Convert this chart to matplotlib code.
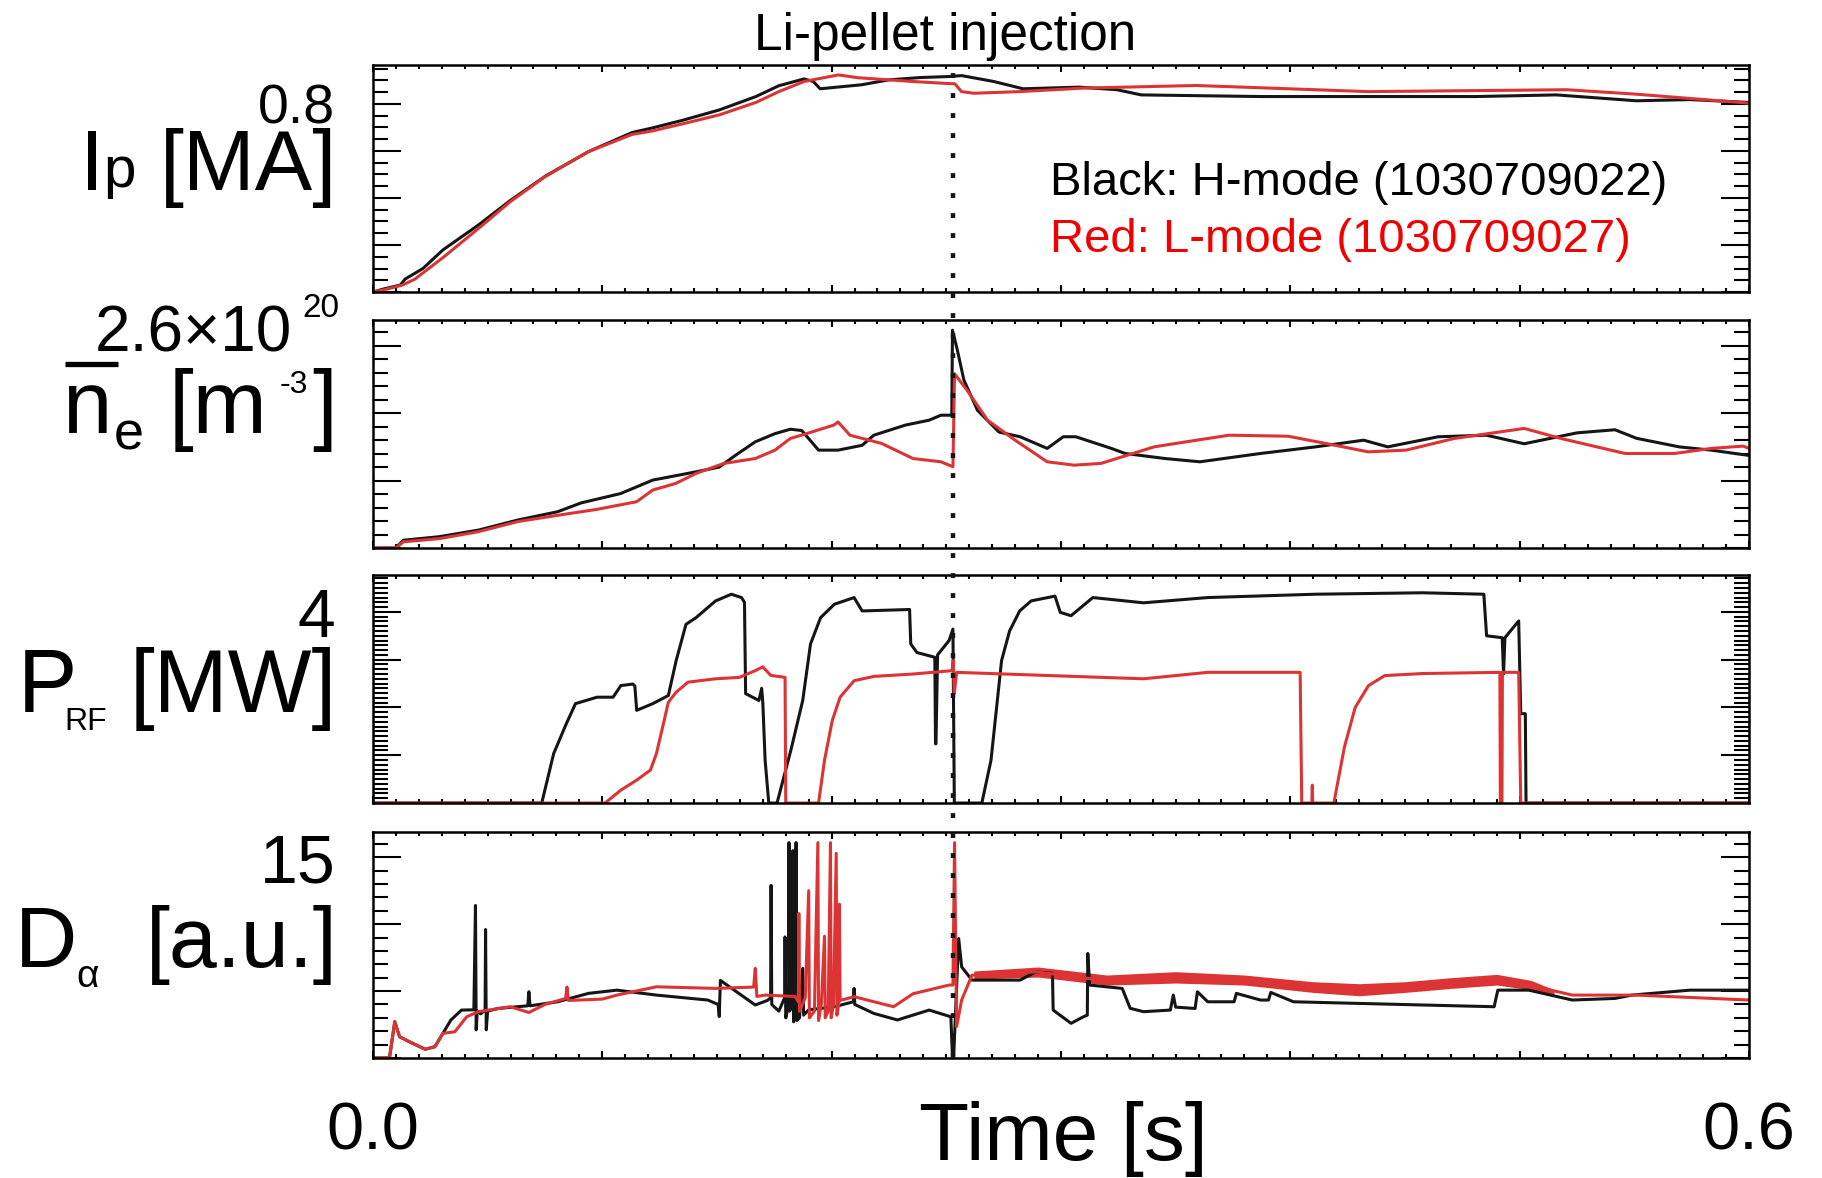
import matplotlib
matplotlib.use('Agg')
import matplotlib.pyplot as plt
from matplotlib.lines import Line2D
from matplotlib.ticker import MultipleLocator, FuncFormatter

plt.rcParams.update({
    'font.family': ['Liberation Sans', 'DejaVu Sans'],
    'mathtext.fontset': 'custom',
    'mathtext.rm': 'Liberation Sans',
    'mathtext.default': 'regular',
})

t_pellet = 0.2529

# ---- plasma current [MA]
ip_h_t = [0, 0.0047, 0.012, 0.014, 0.0218, 0.0305, 0.046, 0.06, 0.0754, 0.094, 0.113, 0.122, 0.135,
          0.151, 0.167, 0.177, 0.188, 0.192, 0.195, 0.213, 0.225, 0.239, 0.251, 0.2567, 0.2707,
          0.2835, 0.308, 0.3244, 0.335, 0.387, 0.481, 0.516, 0.551, 0.5743, 0.6]
ip_h = [0, 0.013, 0.03, 0.055, 0.10, 0.179, 0.285, 0.39, 0.494, 0.597, 0.678, 0.698, 0.73,
        0.774, 0.831, 0.877, 0.906, 0.895, 0.864, 0.881, 0.902, 0.912, 0.916, 0.92, 0.895,
        0.864, 0.871, 0.86, 0.838, 0.831, 0.831, 0.838, 0.813, 0.818, 0.806]
ip_l_t = [0, 0.005, 0.013, 0.0183, 0.031, 0.046, 0.06, 0.075, 0.094, 0.113, 0.122, 0.135, 0.151,
          0.167, 0.177, 0.188, 0.203, 0.2115, 0.2355, 0.2495, 0.2538, 0.2566, 0.262, 0.282, 0.310,
          0.359, 0.434, 0.5206, 0.551, 0.6]
ip_l = [0, 0.01, 0.03, 0.055, 0.15, 0.27, 0.385, 0.49, 0.597, 0.67, 0.685, 0.715, 0.753,
        0.806, 0.852, 0.895, 0.923, 0.911, 0.895, 0.887, 0.885, 0.852, 0.845, 0.852, 0.867,
        0.878, 0.852, 0.860, 0.841, 0.803]

# ---- line-averaged density [1e20 m^-3]
ne_h_t = [0, 0.0099, 0.0133, 0.0288, 0.046, 0.0632, 0.0805, 0.0908, 0.108, 0.122, 0.141, 0.151,
          0.158, 0.1667, 0.1753, 0.182, 0.187, 0.1943, 0.2028, 0.2133, 0.2184, 0.2322, 0.2425,
          0.2477, 0.2524, 0.2527, 0.2547, 0.2577, 0.2636, 0.273, 0.2822, 0.294, 0.301, 0.3065,
          0.322, 0.328, 0.3455, 0.3606, 0.387, 0.411, 0.432, 0.4425, 0.4645, 0.4855, 0.502,
          0.525, 0.5416, 0.551, 0.5696, 0.5835, 0.6]
ne_h = [0, 0, 0.10, 0.145, 0.23, 0.36, 0.466, 0.58, 0.70, 0.873, 0.98, 1.04,
        1.19, 1.365, 1.47, 1.527, 1.51, 1.258, 1.258, 1.32, 1.45, 1.58, 1.643,
        1.707, 1.707, 2.80, 2.56, 2.157, 1.77, 1.49, 1.43, 1.28, 1.43, 1.43,
        1.28, 1.215, 1.15, 1.108, 1.215, 1.30, 1.386, 1.30, 1.43, 1.45, 1.34,
        1.48, 1.52, 1.41, 1.30, 1.258, 1.19]
ne_l_t = [0, 0.0099, 0.0133, 0.0288, 0.046, 0.0632, 0.0805, 0.0977, 0.115, 0.122, 0.132, 0.141,
          0.153, 0.1667, 0.1753, 0.182, 0.189, 0.201, 0.2028, 0.208, 0.2218, 0.2355, 0.2477,
          0.2529, 0.2536, 0.259, 0.268, 0.28, 0.294, 0.3057, 0.3174, 0.3267, 0.3406, 0.3546,
          0.3733, 0.399, 0.4155, 0.434, 0.4505, 0.4715, 0.502, 0.518, 0.546, 0.5675, 0.5835,
          0.5975, 0.6]
ne_l = [0, 0, 0.08, 0.12, 0.21, 0.34, 0.42, 0.497, 0.595, 0.745, 0.83, 0.96,
        1.087, 1.15, 1.258, 1.408, 1.47, 1.58, 1.62, 1.45, 1.344, 1.15, 1.108,
        1.044, 2.24, 2.03, 1.643, 1.386, 1.108, 1.065, 1.087, 1.172, 1.30, 1.365,
        1.45, 1.437, 1.344, 1.236, 1.258, 1.408, 1.537, 1.408, 1.215, 1.215, 1.28,
        1.31, 1.28]

# ---- RF power [MW]
prf_h_t = [0, 0.0736, 0.0788, 0.084, 0.0883, 0.0977, 0.1047, 0.1081, 0.1133, 0.1142, 0.115,
           0.122, 0.1288, 0.1322, 0.1365, 0.1409, 0.1494, 0.1563, 0.1607, 0.162, 0.1625, 0.1683,
           0.1695, 0.1700, 0.171, 0.1726, 0.1762, 0.1822, 0.1874, 0.1908, 0.1952, 0.2012, 0.2098,
           0.2133, 0.234, 0.2345, 0.2372, 0.245, 0.2453, 0.2455, 0.2462, 0.2512, 0.2529, 0.2535,
           0.2655, 0.2695, 0.2741, 0.2776, 0.282, 0.287, 0.2974, 0.2997, 0.3044, 0.3139, 0.336,
           0.364, 0.411, 0.4576, 0.4844, 0.4856, 0.4924, 0.4930, 0.4936, 0.4996, 0.5005, 0.5025,
           0.5028, 0.6]
prf_h = [0, 0, 1.035, 1.625, 2.08, 2.215, 2.215, 2.458, 2.49, 2.45, 1.94,
         2.08, 2.25, 2.98, 3.74, 3.88, 4.23, 4.37, 4.30, 4.2, 2.29, 2.146,
         2.4, 2.1, 0.896, 0, 0, 1.10, 2.146, 3.33, 3.88, 4.16, 4.30,
         4.02, 4.05, 3.33, 3.15, 3.05, 1.24, 1.24, 3.1, 3.40, 3.64, 0,
         0, 0.896, 2.98, 3.60, 4.02, 4.23, 4.33, 3.99, 3.92, 4.30, 4.19,
         4.30, 4.37, 4.40, 4.37, 3.50, 3.46, 2.7, 3.46, 3.81, 1.87, 1.87,
         0, 0]
prf_l_t = [0, 0.1012, 0.1081, 0.115, 0.121, 0.1236, 0.127, 0.1288, 0.1322, 0.1374, 0.1494,
           0.1598, 0.1667, 0.17, 0.1735, 0.1797, 0.180, 0.1943, 0.1969, 0.2003, 0.2037, 0.2098,
           0.2184, 0.2355, 0.2525, 0.2530, 0.2535, 0.2545, 0.336, 0.364, 0.4043, 0.405, 0.4094,
           0.4096, 0.4098, 0.419, 0.4236, 0.4283, 0.4341, 0.4412, 0.4576, 0.4914, 0.4916,
           0.4923, 0.4925, 0.4996, 0.5005, 0.6]
prf_l = [0, 0, 0.27, 0.48, 0.69, 1.035, 1.73, 2.11, 2.32, 2.53, 2.60,
         2.63, 2.77, 2.85, 2.67, 2.63, 0, 0, 0.896, 1.73, 2.215, 2.56,
         2.65, 2.70, 2.77, 2.98, 2.29, 2.735, 2.60, 2.735, 2.735, 0, 0,
         0.375, 0, 0, 1.17, 2.0, 2.458, 2.667, 2.71, 2.735, 0,
         0, 2.735, 2.735, 0, 0]

# ---- D-alpha [a.u.]
da_h_t = [0, 0.0072, 0.0095, 0.0116, 0.0167, 0.0228, 0.027, 0.0305, 0.034, 0.0386, 0.0440,
          0.0447, 0.0450, 0.0455, 0.0470, 0.0489, 0.0491, 0.0494, 0.0500, 0.0545, 0.0675, 0.068,
          0.0685, 0.0805, 0.094, 0.1064, 0.1236, 0.146, 0.1505, 0.151, 0.1515, 0.1667, 0.172,
          0.1734, 0.1736, 0.1739, 0.1770, 0.1795, 0.1797, 0.1800, 0.1812, 0.1814, 0.1817,
          0.1829, 0.1831, 0.1834, 0.1843, 0.1845, 0.1848, 0.1860, 0.1874, 0.1878, 0.1900,
          0.2012, 0.2095, 0.2098, 0.2101, 0.2184, 0.2287, 0.2425, 0.2520, 0.2527, 0.2532,
          0.2554, 0.2567, 0.2612, 0.2822, 0.289, 0.2963, 0.2966, 0.3044, 0.3098, 0.3115, 0.3117,
          0.3125, 0.3267, 0.3302, 0.336, 0.3477, 0.3490, 0.3500, 0.3585, 0.3595, 0.364, 0.3755,
          0.3765, 0.387, 0.3905, 0.3915, 0.4014, 0.4576, 0.4889, 0.4905, 0.504, 0.523, 0.5416,
          0.549, 0.5743, 0.6]
da_h = [0, 0, 2.71, 1.59, 1.14, 0.65, 0.84, 1.84, 2.84, 3.58, 3.6,
        11.4, 2.1, 3.5, 3.3, 3.6, 9.6, 2.1, 3.5, 3.7, 3.9, 4.95,
        3.9, 4.2, 4.83, 5.07, 4.70, 4.33, 4.0, 3.1, 5.8, 3.96, 4.3,
        4.5, 12.9, 4.0, 3.5, 4.5, 9.05, 3.0, 4.0, 16.1, 3.5,
        4.0, 15.5, 2.7, 3.5, 16.1, 2.8, 3.0, 6.7, 3.2, 3.6,
        3.83, 4.2, 5.2, 4.0, 3.33, 2.84, 3.58, 3.08, 0, 0,
        8.93, 6.81, 5.82, 5.82, 6.44, 6.32, 3.58, 2.59, 3.08, 3.2, 7.81,
        5.45, 5.2, 3.71, 3.46, 3.58, 4.7, 3.8, 3.7, 4.95, 4.2, 4.2,
        4.83, 4.33, 4.33, 4.9, 4.2, 3.96, 3.83, 5.07, 5.07, 4.33, 4.45,
        4.70, 5.07, 5.07]
da_l_t = [0, 0.0072, 0.0095, 0.0116, 0.0167, 0.0228, 0.027, 0.0305, 0.0357, 0.0409, 0.046,
          0.0598, 0.068, 0.075, 0.084, 0.0846, 0.0852, 0.1, 0.1064, 0.1236, 0.1494, 0.166,
          0.1667, 0.1674, 0.171, 0.184, 0.1855, 0.1857, 0.186, 0.1885, 0.19, 0.1903, 0.1925,
          0.194, 0.1943, 0.1955, 0.1969, 0.1972, 0.1985, 0.1995, 0.1998, 0.2008, 0.202, 0.2023,
          0.2031, 0.2034, 0.2037, 0.2098, 0.227, 0.2355, 0.2512, 0.2529, 0.2536, 0.2545, 0.2567,
          0.2612, 0.289, 0.3174, 0.3524, 0.387, 0.4295, 0.4576, 0.4879, 0.504, 0.523, 0.551, 0.6]
da_l = [0, 0, 2.71, 1.59, 1.14, 0.65, 0.84, 1.84, 1.96, 3.08, 3.46,
        3.83, 3.4, 4.0, 4.45, 5.3, 4.3, 4.4, 4.7, 5.32, 5.2, 5.3,
        6.7, 4.6, 4.7, 4.6, 4.2, 10.8, 3.5, 4.5, 12.5, 3.0, 3.5,
        16.1, 2.8, 4.0, 9.1, 3.0, 3.5, 16.1, 3.0, 4.0, 15.3, 3.2,
        4.0, 11.5, 4.3, 4.58, 3.83, 4.8, 5.45, 5.45, 16.1, 2.34, 4.33,
        6.19, 6.44, 5.82, 6.0, 5.82, 5.07, 5.45, 5.82, 5.45, 4.7, 4.7, 4.33]
# spread of the noisy red D-alpha trace after the pellet (lower / upper edge)
da_l_band_t = [0.262, 0.29, 0.32, 0.35, 0.38, 0.41, 0.43, 0.45, 0.47, 0.49, 0.505, 0.515]
da_l_band_lo = [5.9, 6.05, 5.45, 5.6, 5.45, 4.9, 4.65, 4.9, 5.2, 5.45, 5.1, 4.7]
da_l_band_hi = [6.5, 6.8, 6.2, 6.45, 6.2, 5.7, 5.55, 5.7, 6.0, 6.25, 5.8, 5.1]

h_color = '#151515'
l_color = '#dc3434'
W, H = 1822, 1178

fig = plt.figure(figsize=(W / 100, H / 100), dpi=100)
left, width = 0.2047, 0.7552
boxes = [(0.7521, 0.1927), (0.5348, 0.1935), (0.3183, 0.1935), (0.1019, 0.1919)]
axes = [fig.add_axes([left, b, width, h]) for b, h in boxes]

panels = [
    (ip_h_t, ip_h, ip_l_t, ip_l, 0.965, 0.2, 0.05),
    (ne_h_t, ne_h, ne_l_t, ne_l, 2.93, 2.6 / 3, 2.6 / 15),
    (prf_h_t, prf_h, prf_l_t, prf_l, 4.77, 1.0, 0.1),
    (da_h_t, da_h, da_l_t, da_l, 16.9, 5.0, 1.0),
]

for ax, (th, yh, tl, yl, ytop, ymaj, ymin) in zip(axes, panels):
    ax.plot(th, yh, color=h_color, lw=2.2)
    ax.plot(tl, yl, color=l_color, lw=2.2)
    ax.set_xlim(0, 0.6)
    ax.set_ylim(0, ytop)
    ax.xaxis.set_major_locator(MultipleLocator(0.1))
    ax.xaxis.set_minor_locator(MultipleLocator(0.01))
    ax.yaxis.set_major_locator(MultipleLocator(ymaj))
    ax.yaxis.set_minor_locator(MultipleLocator(ymin))
    ax.tick_params(axis='x', which='both', direction='in', top=True, bottom=True,
                   width=1.5, labelbottom=False)
    ax.tick_params(axis='x', which='major', length=5)
    ax.tick_params(axis='x', which='minor', length=3)
    ax.tick_params(axis='y', which='both', direction='in', left=True, right=True,
                   width=1.5, pad=27)
    ax.tick_params(axis='y', which='major', length=20)
    ax.tick_params(axis='y', which='minor', length=10.5)
    for s in ax.spines.values():
        s.set_linewidth(1.8)

axes[3].fill_between(da_l_band_t, da_l_band_lo, da_l_band_hi, color=l_color, lw=0)


def only(value, text):
    return FuncFormatter(lambda v, p: text if abs(v - value) < 1e-6 else '')


axes[0].yaxis.set_major_formatter(only(0.8, '0.8'))
axes[0].tick_params(axis='y', labelsize=40)
axes[1].yaxis.set_major_formatter(FuncFormatter(lambda v, p: ''))
axes[2].yaxis.set_major_formatter(only(4, '4'))
axes[2].tick_params(axis='y', labelsize=49)
axes[3].yaxis.set_major_formatter(only(15, '15'))
axes[3].tick_params(axis='y', labelsize=49)

axes[3].xaxis.set_major_formatter(FuncFormatter(
    lambda v, p: '0.0' if abs(v) < 1e-6 else ('0.6' if abs(v - 0.6) < 1e-6 else '')))
axes[3].tick_params(axis='x', labelbottom=True, labelsize=48, pad=31)


def label(px, py, s, size, ha='left'):
    # place a piece of a y-axis label at pixel position (left/right edge, baseline)
    fig.text(px / W, 1 - py / H, s, ha=ha, va='baseline', fontsize=size)


# I_p [MA]
label(80, 190, 'I', 62)
label(103, 187, 'p', 42)
label(337, 190, '[MA]', 62, ha='right')
# 2.6x10^20 and n_e [m^-3]
label(292, 352, '2.6×10', 46, ha='right')
label(339, 317, '20', 24, ha='right')
label(62, 433, 'n', 64)
fig.add_artist(Line2D([65 / W, 118 / W], [1 - 364 / H, 1 - 364 / H],
                      transform=fig.transFigure, color='black', lw=3.8, solid_capstyle='butt'))
label(114, 450, 'e', 39)
label(169, 433, '[m', 64)
label(280, 393, '-3', 23)
label(337, 433, ']', 64, ha='right')
# P_RF [MW]
label(18, 712, 'P', 64)
label(64, 730, 'RF', 23)
label(337, 712, '[MW]', 64, ha='right')
# D_alpha [a.u.]
label(15, 967, 'D', 62)
label(76, 987, 'α', 28)
label(338, 967, '[a.u.]', 62, ha='right')

# legend text
axes[0].text(0.492, 0.427, 'Black: H-mode (1030709022)', transform=axes[0].transAxes,
             ha='left', va='baseline', fontsize=34, color='black')
axes[0].text(0.492, 0.176, 'Red: L-mode (1030709027)', transform=axes[0].transAxes,
             ha='left', va='baseline', fontsize=34, color='#f00000')

fig.text(0.5187, 0.9576, 'Li-pellet injection', ha='center', va='baseline', fontsize=37)
fig.text(0.5834, 0.0153, 'Time [s]', ha='center', va='baseline', fontsize=59)

# pellet time marker running through all four panels
x_fig = fig.transFigure.inverted().transform(axes[0].transData.transform((t_pellet, 0)))[0]
fig.add_artist(Line2D([x_fig, x_fig], [axes[3].get_position().y0, axes[0].get_position().y1],
                      transform=fig.transFigure, color=h_color, lw=3.2,
                      linestyle=(0, (1.1, 3.4)), zorder=10))

fig.savefig('out.png', dpi=100)
